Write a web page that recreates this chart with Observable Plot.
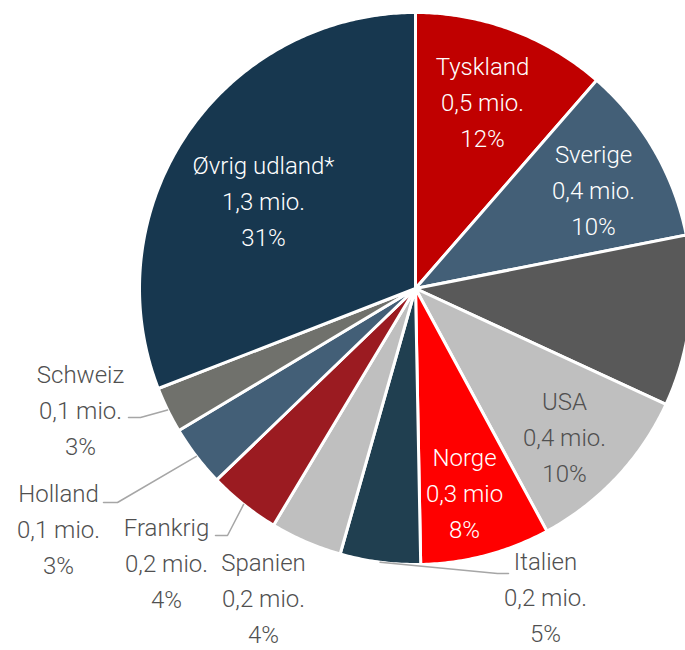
<!DOCTYPE html>
<html>
<head>
<meta charset="utf-8">
<script src="https://cdn.jsdelivr.net/npm/d3@7"></script>
<script src="https://cdn.jsdelivr.net/npm/@observablehq/plot@0.6"></script>
<style>
  html, body { margin: 0; padding: 0; background: #fff; }
  #chart svg { display: block; }
</style>
</head>
<body>
<div id="chart"></div>
<script>
// ---- data ----
const names = ["Tyskland", "Sverige", "Storbritannien", "USA", "Norge", "Italien", "Spanien", "Frankrig", "Holland", "Schweiz", "Øvrig udland*"];
const shares = [11.4, 10.5, 10.0, 10.2, 7.6, 4.7, 4.2, 4.2, 3.6, 2.7, 30.9];
const mioLabels = ["0,5 mio.", "0,4 mio.", "", "0,4 mio.", "0,3 mio", "0,2 mio.", "0,2 mio.", "0,2 mio.", "0,1 mio.", "0,1 mio.", "1,3 mio."];
const pctLabels = ["12%", "10%", "", "10%", "8%", "5%", "4%", "4%", "3%", "3%", "31%"];
const colors = ["#C00000", "#435F77", "#595959", "#BFBFBF", "#FF0000", "#203F50", "#BFBFBF", "#9B1B21", "#435F77", "#70716C", "#17374F"];

// ---- layout (pixel space) ----
const W = 685, H = 650;
const cx = 415, cy = 288, R = 276;
const labelPos = {
  "Tyskland": [482, 99, "#fff"],
  "Sverige": [593, 187, "#fff"],
  "USA": [564, 434, "#505050"],
  "Norge": [464, 490, "#fff"],
  "Øvrig udland*": [263, 198, "#fff"],
  "Italien": [545, 594, "#505050"],
  "Spanien": [263, 595, "#505050"],
  "Frankrig": [166, 560, "#505050"],
  "Holland": [58, 526, "#505050"],
  "Schweiz": [80, 407, "#505050"]
};
const leaderLayout = {
  "Schweiz": [[140, 417], [128, 417]],
  "Holland": [[117, 502], [103, 502]],
  "Frankrig": [[227, 535], [215, 535]],
  "Italien": [[497, 573], [508, 573]]
};

const rows = names.map((name, i) => ({name, share: shares[i], mio: mioLabels[i], pct: pctLabels[i]}));
const arcs = d3.pie().sort(null).value(d => d.share)(rows);

const polar = (a, r) => [cx + r * Math.sin(a), cy - r * Math.cos(a)];

// slice polygons
const slicePts = [];
for (const arc of arcs) {
  const name = arc.data.name;
  slicePts.push({name, x: cx, y: cy});
  const n = Math.max(2, Math.ceil((arc.endAngle - arc.startAngle) / 0.01));
  for (let k = 0; k <= n; k++) {
    const a = arc.startAngle + (arc.endAngle - arc.startAngle) * k / n;
    const [x, y] = polar(a, R);
    slicePts.push({name, x, y});
  }
  slicePts.push({name, x: cx, y: cy});
}

// leader lines
const leaderPts = [];
for (const arc of arcs) {
  const name = arc.data.name;
  if (!leaderLayout[name]) continue;
  const mid = (arc.startAngle + arc.endAngle) / 2;
  const [x0, y0] = polar(mid, R);
  leaderPts.push({name, x: x0, y: y0});
  for (const [x, y] of leaderLayout[name]) leaderPts.push({name, x, y});
}

// labels
const labels = rows.filter(d => labelPos[d.name]).map(d => ({
  text: `${d.name}\n${d.mio}\n${d.pct}`,
  x: labelPos[d.name][0],
  y: labelPos[d.name][1],
  color: labelPos[d.name][2]
}));

const chart = Plot.plot({
  width: W,
  height: H,
  margin: 0,
  x: {domain: [0, W], range: [0, W], axis: null},
  y: {domain: [0, H], range: [0, H], axis: null},
  color: {domain: names, range: colors},
  style: {background: "#fff"},
  marks: [
    Plot.line(slicePts, {x: "x", y: "y", z: "name", fill: "name", stroke: "#fff", strokeWidth: 3, strokeLinejoin: "round", curve: "linear"}),
    Plot.line(leaderPts, {x: "x", y: "y", z: "name", stroke: "#A6A6A6", strokeWidth: 1.5, curve: "linear"}),
    Plot.text(labels, {x: "x", y: "y", text: "text", fill: "color", fontFamily: "Roboto", fontWeight: 300, fontSize: 24, lineHeight: 1.5, textAnchor: "middle"})
  ]
});
document.getElementById("chart").appendChild(chart);
</script>
</body>
</html>
